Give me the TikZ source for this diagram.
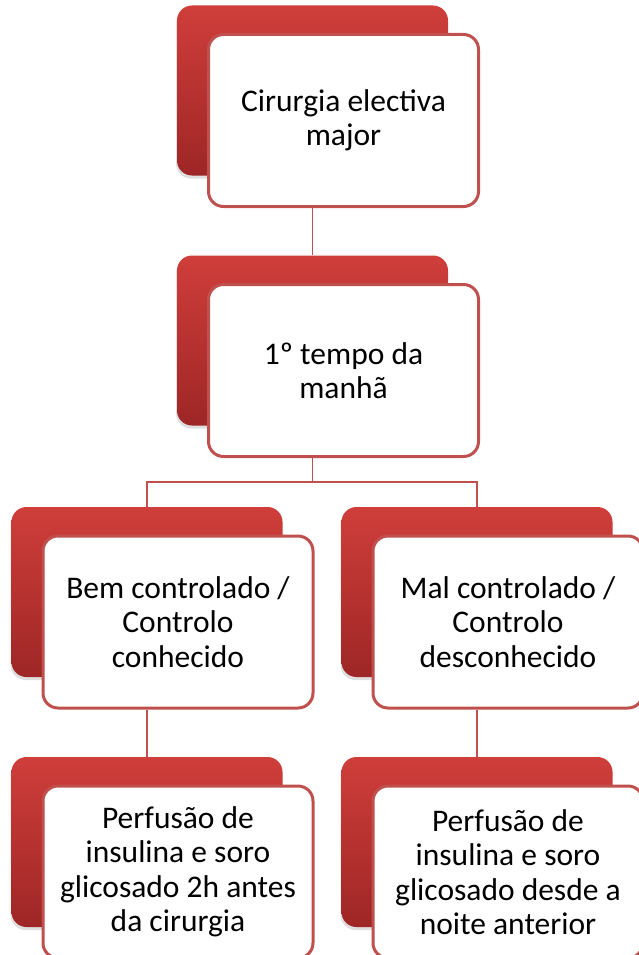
\documentclass[tikz,border=0pt]{standalone}
\usepackage{fontspec}
\setmainfont{Carlito}
\usepackage{tikz}
\usetikzlibrary{shadows}

\definecolor{boxred}{RGB}{192,80,77}
\definecolor{backtop}{RGB}{207,62,58}
\definecolor{backbot}{RGB}{158,38,38}

\begin{document}
\begin{tikzpicture}[x=1pt,y=-1pt]
\tikzstyle{back}=[rectangle,rounded corners=15pt,top color=backtop,bottom color=backbot,
  minimum width=271pt,minimum height=170pt,inner sep=0pt,
  drop shadow={shadow xshift=-1pt,shadow yshift=-3pt,opacity=0.25}];
\tikzstyle{front}=[rectangle,rounded corners=15pt,draw=boxred,line width=3pt,fill=white,
  minimum width=270pt,minimum height=172pt,inner sep=0pt,align=center,
  font=\fontsize{31.5}{34.5}\selectfont];
\tikzstyle{link}=[draw=boxred,line width=1.8pt];
\useasboundingbox (0,0) rectangle (639,955);
\node[back] (r1) at (312.5, 90.5) {};
\node[front] (w1) at (343.5,120.5) {Cirurgia electiva\\major};
\node[back] (r2) at (312.5,340.5) {};
\node[front] (w2) at (343.5,370.5) {1º tempo da\\manhã};
\node[back] (r3) at (147,592) {};
\node[front] (w3) at (178,622) {Bem controlado /\\Controlo\\conhecido};
\node[back] (r4) at (477,592) {};
\node[front] (w4) at (508,622) {Mal controlado /\\Controlo\\desconhecido};
\node[back] (r5) at (147,842) {};
\node[front] (w5) at (178,872) {Perfusão de\\insulina e soro\\glicosado 2h antes\\da cirurgia};
\node[back] (r6) at (477,842) {};
\node[front] (w6) at (508,872) {Perfusão de\\insulina e soro\\glicosado desde a\\noite anterior};
\coordinate (fork) at (312.5,482);
\draw [link] (w1.south -| r1.center) -- (r2.north);
\draw [link] (w2.south -| r2.center) -- (fork);
\draw [link] (r3.north) |- (fork) -| (r4.north);
\draw [link] (w3.south -| r3.center) -- (r5.north);
\draw [link] (w4.south -| r4.center) -- (r6.north);
\end{tikzpicture}
\end{document}
